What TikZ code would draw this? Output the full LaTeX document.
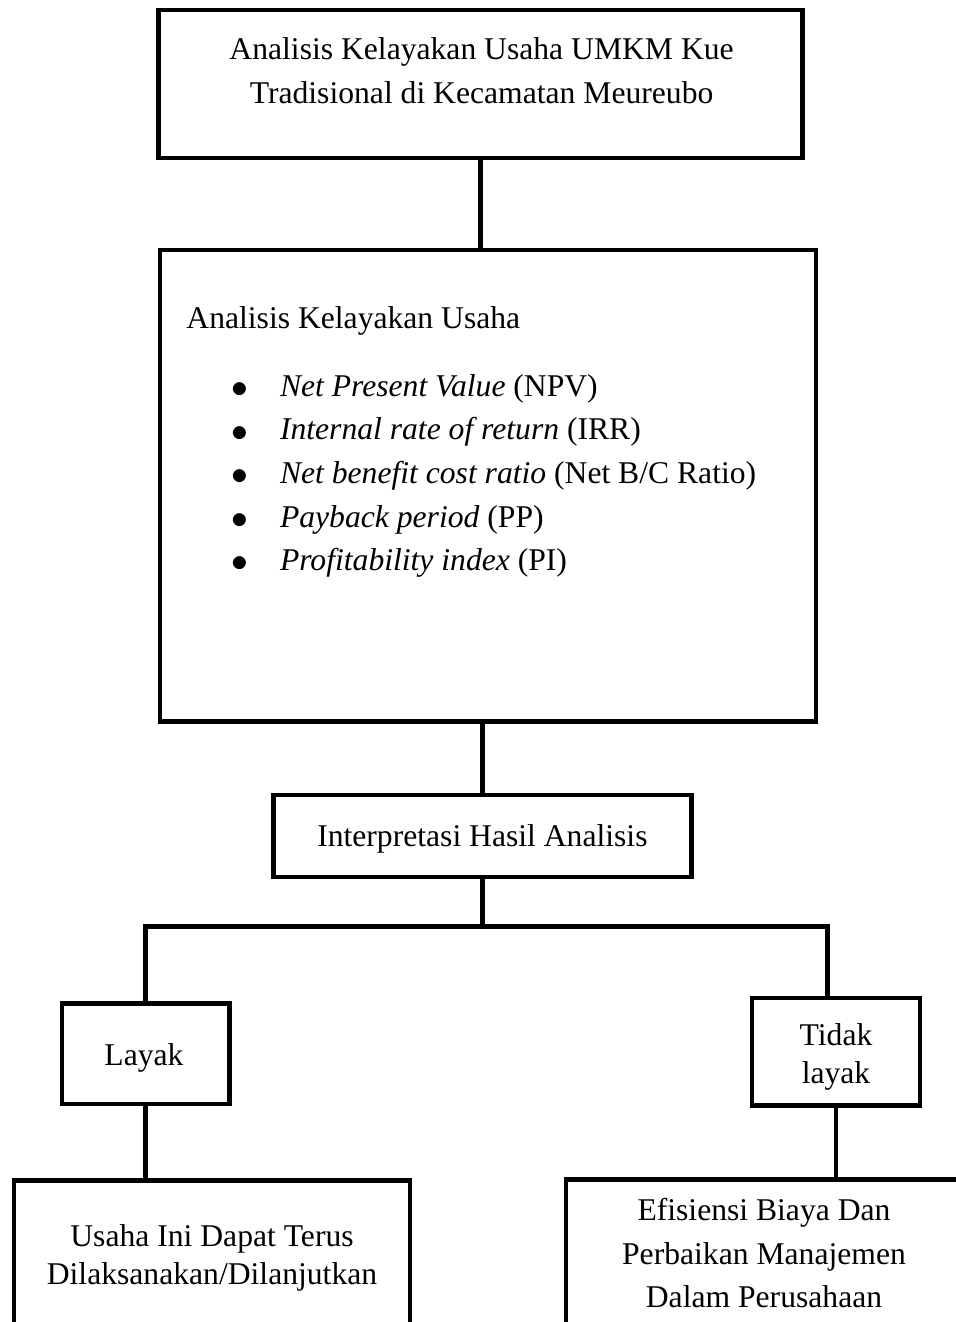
\documentclass[tikz,border=0pt]{standalone}
\usepackage{fontspec}
\setmainfont{Liberation Serif}
\usetikzlibrary{positioning}
\newcommand{\butir}{\raisebox{-0.04em}{\scalebox{1.15}{$\bullet$}}}

\begin{document}
\begin{tikzpicture}[line width=3.5pt]
   \useasboundingbox (0,0) rectangle (23.9,-33.05);
   \begin{scope}[every node/.style={rectangle,draw=black,inner sep=0pt}]
    \node (judul) [minimum width=16.1cm, minimum height=3.7cm] at (12.01,-2.1) {};
    \node (metode) [minimum width=16.4cm, minimum height=11.78cm] at (12.2,-12.14) {};
    \node (interp) [minimum width=10.45cm, minimum height=2.05cm] at (12.07,-20.9) {};
    \node (layak) [minimum width=4.18cm, minimum height=2.52cm] at (3.64,-26.34) {};
    \node (tidak) [minimum width=4.2cm, minimum height=2.68cm] at (20.9,-26.29) {};
    \node (lanjut) [minimum width=9.9cm, minimum height=5cm, anchor=north] at (5.3,-29.45) {};
    \node (efisien) [minimum width=9.9cm, minimum height=5cm, anchor=north] at (19.1,-29.43) {};
   \end{scope}
   \begin{scope}[every node/.style={font=\fontsize{22.5}{31}\selectfont,inner sep=0pt,align=center}]
    \node (judulTxt) at (12.04,-1.77) {Analisis Kelayakan Usaha UMKM Kue\\Tradisional di Kecamatan Meureubo};
    \node (metodeTxt) [anchor=west] at (4.6,-8.03) {Analisis Kelayakan Usaha};
    \node (daftar) [anchor=west, align=left] at (5.72,-11.87) {%
      \begin{tabular}{@{}l@{\hspace{0.8cm}}l@{}}
       \butir & \textit{Net Present Value} (NPV)\\
       \butir & \textit{Internal rate of return} (IRR)\\
       \butir & \textit{Net benefit cost ratio} (Net B/C Ratio)\\
       \butir & \textit{Payback period} (PP)\\
       \butir & \textit{Profitability index} (PI)
      \end{tabular}};
    \node (interpTxt) at (12.06,-20.98) {Interpretasi Hasil Analisis};
    \node (layakTxt) at (3.6,-26.45) {Layak};
    \node (tidakTxt) [font=\fontsize{22.5}{27}\selectfont] at (20.9,-26.43) {Tidak\\layak};
    \node (lanjutTxt) [font=\fontsize{22.5}{27}\selectfont] at (5.3,-31.45) {Usaha Ini Dapat Terus\\Dilaksanakan/Dilanjutkan};
    \node (efisienTxt) at (19.1,-31.33) {Efisiensi Biaya Dan\\Perbaikan Manajemen\\Dalam Perusahaan};
   \end{scope}
   % garis penghubung
   \draw (judul.south) -- (judul.south |- metode.north);
   \draw (interp.north) -- (interp.north |- metode.south);
   \draw (interp.south) -- ++(0,-1.18) coordinate (cabang);
   \draw (layak.north) |- (cabang) -| ([xshift=-0.22cm]tidak.north);
   \draw (layak.south) -- (layak.south |- lanjut.north);
   \draw (tidak.south) -- (tidak.south |- efisien.north);
\end{tikzpicture}
\end{document}
